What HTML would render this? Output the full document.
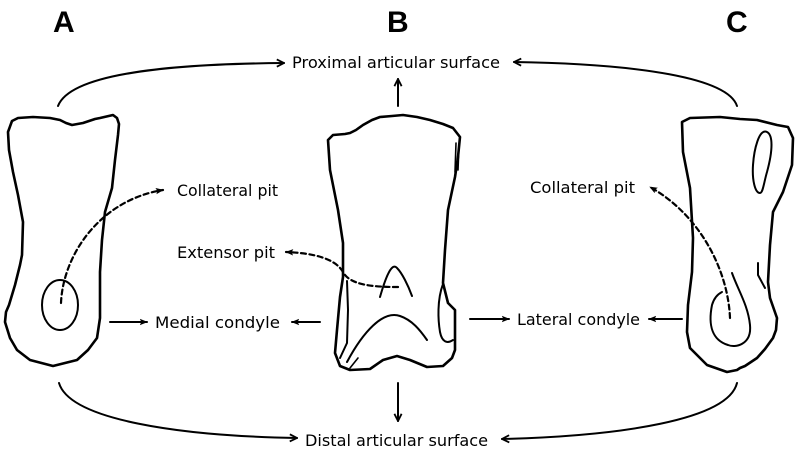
<!DOCTYPE html>
<html>
<head>
<meta charset="utf-8">
<style>
html,body{margin:0;padding:0;background:#fff;}
svg{display:block;}
text{font-family:"DejaVu Sans","Liberation Sans",sans-serif;fill:#000;}
</style>
</head>
<body>
<svg width="800" height="454" viewBox="0 0 800 454" xmlns="http://www.w3.org/2000/svg">
<defs>
<marker id="ah" viewBox="0 0 10 10" refX="9" refY="5" markerWidth="9" markerHeight="9" markerUnits="userSpaceOnUse" orient="auto">
<path d="M1,1 L9,5 L1,9" fill="none" stroke="#000" stroke-width="2"/>
</marker>
<marker id="af" viewBox="0 0 10 10" refX="9" refY="5" markerWidth="8" markerHeight="8" markerUnits="userSpaceOnUse" orient="auto">
<path d="M0,1 L10,5 L0,9 L2,5 z" fill="#000"/>
</marker>
</defs>

<!-- Panel letters -->
<text x="53" y="32" font-size="30" font-weight="bold" style="font-family:'Liberation Sans',sans-serif">A</text>
<text x="387" y="32" font-size="30" font-weight="bold" style="font-family:'Liberation Sans',sans-serif">B</text>
<text x="726" y="32" font-size="30" font-weight="bold" style="font-family:'Liberation Sans',sans-serif">C</text>

<!-- Labels -->
<text x="292" y="68" font-size="16" textLength="208" lengthAdjust="spacingAndGlyphs">Proximal articular surface</text>
<text x="177" y="196" font-size="16" textLength="101" lengthAdjust="spacingAndGlyphs">Collateral pit</text>
<text x="177" y="258" font-size="16" textLength="98" lengthAdjust="spacingAndGlyphs">Extensor pit</text>
<text x="155" y="328" font-size="16" textLength="125" lengthAdjust="spacingAndGlyphs">Medial condyle</text>
<text x="305" y="446" font-size="16" textLength="183" lengthAdjust="spacingAndGlyphs">Distal articular surface</text>
<text x="530" y="193" font-size="16" textLength="105" lengthAdjust="spacingAndGlyphs">Collateral pit</text>
<text x="517" y="325" font-size="16" textLength="123" lengthAdjust="spacingAndGlyphs">Lateral condyle</text>

<g fill="none" stroke="#000" stroke-linecap="round" stroke-linejoin="round">
<!-- Curved connectors -->
<path d="M58,106 C70,75 160,64 284,63" stroke-width="2" marker-end="url(#ah)"/>
<path d="M737,106 C728,78 640,64 514,62" stroke-width="2" marker-end="url(#ah)"/>
<path d="M59,383 C70,420 180,436 297,438" stroke-width="2" marker-end="url(#ah)"/>
<path d="M737,383 C728,420 620,436 502,439" stroke-width="2" marker-end="url(#ah)"/>

<!-- Straight arrows -->
<path d="M398,106 L398,79" stroke-width="2" marker-end="url(#ah)"/>
<path d="M398,383 L398,421" stroke-width="2" marker-end="url(#ah)"/>
<path d="M110,322 L147,322" stroke-width="2" marker-end="url(#af)"/>
<path d="M320,322 L292,322" stroke-width="2" marker-end="url(#af)"/>
<path d="M470,319 L509,319" stroke-width="2" marker-end="url(#af)"/>
<path d="M682,319 L649,319" stroke-width="2" marker-end="url(#af)"/>

<!-- Bone A -->
<polygon stroke-width="2.6" points="8,132 12,121 18,118 33,117 50,118 60,120 66,123 72,125 83,123 95,119 100,118 113,115 117,118 119,124 118,135 115,160 112,188 105,212 102,240 100,272 100,318 97,338 88,350 77,360 53,366 30,360 17,350 10,338 5,322 6,312 9,305 12,295 15,285 20,265 22,255 23,222 18,195 13,172 9,150"/>
<ellipse cx="60" cy="305" rx="18" ry="25" stroke-width="2"/>
<path d="M61,303 C63,255 100,200 163,190" stroke-width="2.2" stroke-dasharray="5,3.5" marker-end="url(#af)"/>

<!-- Bone B -->
<polygon stroke-width="2.6" points="328,140 333,135 345,134 350,133 356,130 363,125 372,120 380,117 392,116 403,115 417,117 430,120 443,124 453,128 460,137 458,157 455,177 448,210 445,250 443,283 448,303 455,310 455,350 452,358 443,366 427,367 410,360 397,356 383,360 370,369 350,370 340,366 335,353 337,330 340,297 343,277 343,243 338,210 330,170"/>
<path d="M456,143 L455,172" stroke-width="1.6"/>
<path d="M459,145 L458,170" stroke-width="1.6"/>
<path d="M347,281 L348,310 L347,343 L340,358" stroke-width="2"/>
<path d="M443,284 C437,300 438,320 440,332 C442,342 447,344 453,340" stroke-width="2"/>
<path d="M380,297 C386,276 392,262 397,268 C402,273 408,285 412,296" stroke-width="2"/>
<path d="M347,362 C363,332 383,310 400,316 C412,320 420,330 427,340" stroke-width="2"/>
<path d="M350,368 L358,358" stroke-width="1.6"/>
<path d="M398,287 C372,287 350,285 343,272 C335,258 312,253 286,252" stroke-width="2.2" stroke-dasharray="5,3.5" marker-end="url(#af)"/>

<!-- Bone C -->
<polygon stroke-width="2.6" points="682,122 690,118 720,117 740,119 757,120 777,125 788,127 793,138 792,165 783,192 773,212 770,245 768,282 770,298 777,318 776,330 773,338 765,349 757,358 745,366 740,368 737,370 727,372 707,365 690,348 687,332 688,305 692,272 693,238 690,188 683,152"/>
<path d="M767,132 C773,135 773,150 767,172 C764,182 763,193 760,193 C755,193 752,180 753,165 C754,150 759,128 767,132 Z" stroke-width="2"/>
<path d="M758,263 L758,275 L765,288" stroke-width="2"/>
<path d="M732,273 C738,290 748,305 750,325 C752,345 735,348 728,345 C712,340 708,325 712,305 C714,298 718,294 722,292" stroke-width="2"/>
<path d="M730,318 C728,270 700,215 650,187" stroke-width="2.2" stroke-dasharray="5,3.5" marker-end="url(#af)"/>
</g>
</svg>
</body>
</html>
